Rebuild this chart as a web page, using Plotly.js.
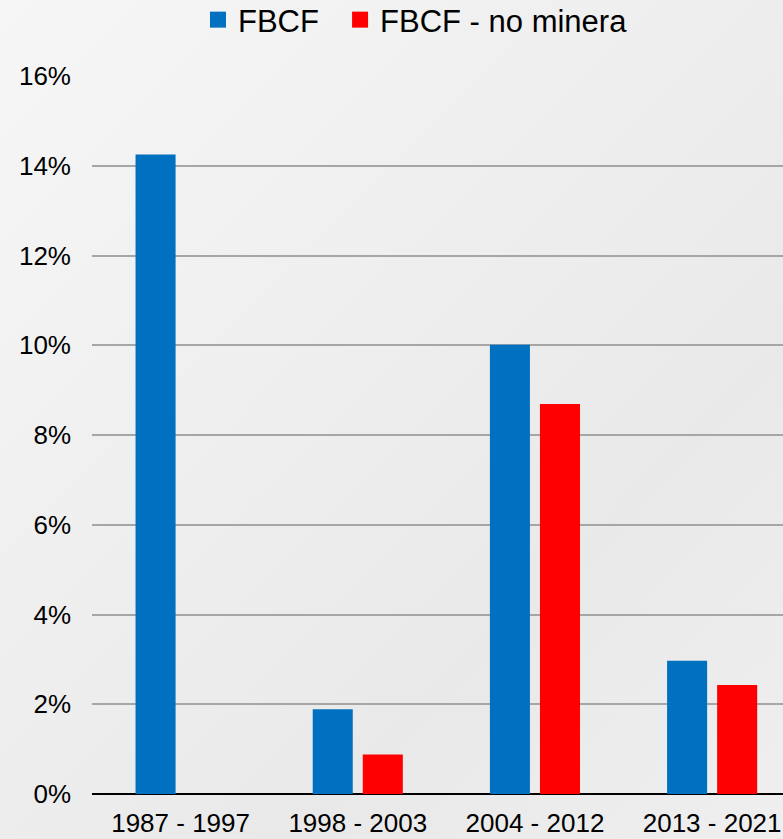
<!DOCTYPE html>
<html>
<head>
<meta charset="utf-8">
<script src="https://cdn.plot.ly/plotly-3.0.1.min.js"></script>
<style>
html,body{margin:0;padding:0;}
body{width:783px;height:839px;background:linear-gradient(135deg,#f6f6f6 0%,#eeeeee 45%,#e9e9e9 70%,#efefef 100%);}
#chart{width:783px;height:839px;}
</style>
</head>
<body>
<div id="chart"></div>
<script>
const categories = ["1987 - 1997", "1998 - 2003", "2004 - 2012", "2013 - 2021"];
const fbcf = [14.25, 1.89, 10.01, 2.97];
const fbcfNoMinera = [null, 0.88, 8.69, 2.43];
const seriesNames = ["FBCF", "FBCF - no minera"];
const yTicks = [0, 2, 4, 6, 8, 10, 12, 14, 16];

const traces = [
  {type: 'bar', name: seriesNames[0], x: categories, y: fbcf,
   marker: {color: '#0070c0'}, legend: 'legend'},
  {type: 'bar', name: seriesNames[1], x: categories, y: fbcfNoMinera,
   marker: {color: '#ff0000'}, legend: 'legend2'}
];

const legendCommon = {orientation: 'h', yanchor: 'middle', y: 1.078, xanchor: 'left',
  font: {size: 31}, bgcolor: 'rgba(0,0,0,0)', itemwidth: 30, borderwidth: 0};

const layout = {
  width: 783, height: 839,
  margin: {l: 92, r: 0, t: 76, b: 45, autoexpand: false},
  paper_bgcolor: 'rgba(0,0,0,0)',
  plot_bgcolor: 'rgba(0,0,0,0)',
  font: {family: '"Liberation Sans", Arial, sans-serif', color: '#000000', size: 26},
  barmode: 'group',
  bargap: 0.435,
  bargroupgap: 0.2,
  showlegend: true,
  legend: Object.assign({}, legendCommon, {x: 0.1534}),
  legend2: Object.assign({}, legendCommon, {x: 0.359}),
  xaxis: {type: 'category', range: [-0.5, 3.4], showgrid: false, showline: false,
          zeroline: false, ticks: '', ticklabelstandoff: 11, fixedrange: true},
  yaxis: {range: [0, 16], tickvals: yTicks, ticktext: yTicks.map(v => v + '%'),
          showgrid: true, gridcolor: '#a6a6a6', gridwidth: 2,
          zeroline: true, zerolinecolor: '#000000', zerolinewidth: 2,
          showline: false, ticks: '', ticklabelstandoff: 20}
};

Plotly.newPlot('chart', traces, layout, {displayModeBar: false, staticPlot: true}).then(function (gd) {
  // enlarge the legend swatches to match the reference squares
  gd.querySelectorAll('.legendpoints path').forEach(function (p) {
    p.setAttribute('d', 'M8,8H-8V-8H8Z');
  });
});
</script>
</body>
</html>
